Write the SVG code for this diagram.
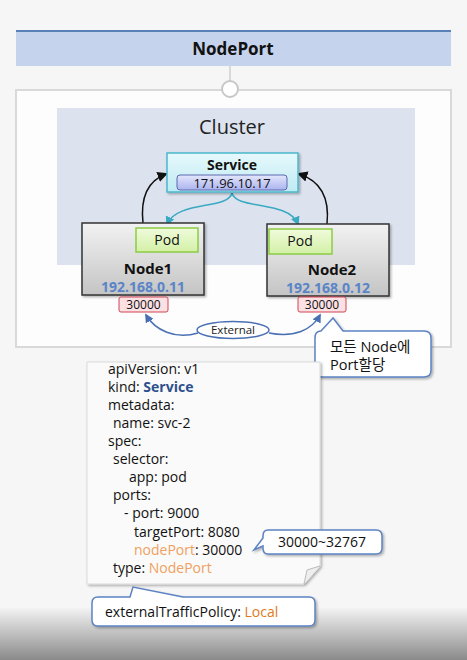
<svg xmlns="http://www.w3.org/2000/svg" width="467" height="660" viewBox="0 0 467 660">
<defs>
<style>
.t{font-family:"Open Sans","Noto Sans","Noto Sans CJK KR",sans-serif}
.code{font-size:14px}
.b{font-weight:bold}
.callout{fill:#fff;stroke:#5b82c2;stroke-width:1.5}
</style>
<linearGradient id="bot" x1="0" y1="0" x2="0" y2="1">
<stop offset="0" stop-color="#f3f3f3"/><stop offset="1" stop-color="#8a8a8a"/>
</linearGradient>
<linearGradient id="node" x1="0" y1="0" x2="0" y2="1">
<stop offset="0" stop-color="#f2f2f2"/><stop offset="1" stop-color="#c4c4c4"/>
</linearGradient>
<linearGradient id="svc" x1="0" y1="0" x2="0" y2="1">
<stop offset="0" stop-color="#e6f9fc"/><stop offset="1" stop-color="#bfeaf3"/>
</linearGradient>
<linearGradient id="ip" x1="0" y1="0" x2="0" y2="1">
<stop offset="0" stop-color="#e4e7fb"/><stop offset="1" stop-color="#aab3ef"/>
</linearGradient>
<linearGradient id="pod" x1="0" y1="0" x2="0" y2="1">
<stop offset="0" stop-color="#f0fbdc"/><stop offset="1" stop-color="#d3f0a6"/>
</linearGradient>
<filter id="sh" x="-10%" y="-10%" width="130%" height="130%">
<feDropShadow dx="1.5" dy="1.5" stdDeviation="1.2" flood-color="#000" flood-opacity="0.3"/>
</filter>
<marker id="ak" viewBox="0 0 10 10" refX="8" refY="5" markerWidth="7" markerHeight="7" orient="auto"><path d="M0,0 L10,5 L0,10 z" fill="#111"/></marker>
<marker id="ac" viewBox="0 0 10 10" refX="8" refY="5" markerWidth="6" markerHeight="6" orient="auto"><path d="M0,0 L10,5 L0,10 z" fill="#3aa9c2"/></marker>
<marker id="ab" viewBox="0 0 10 10" refX="8" refY="5" markerWidth="6" markerHeight="6" orient="auto"><path d="M0,0 L10,5 L0,10 z" fill="#4a70b4"/></marker>
</defs>
<rect x="0" y="0" width="467" height="660" fill="#f6f6f6"/>
<rect x="0" y="608" width="467" height="52" fill="url(#bot)"/>

<g fill="#111">
<g id="title">
<rect x="16" y="30" width="435" height="36" fill="#c5d3ed"/>
<rect x="16" y="30" width="435" height="2" fill="#5a80b8"/>
<text class="t b" x="233" y="55" font-size="17" text-anchor="middle">NodePort</text>
</g>

<g id="container">
<rect x="16" y="90" width="435" height="257" fill="#fdfdfd" stroke="#d9d9d9" stroke-width="2"/>
</g>
<g id="cluster">
<rect x="57" y="108" width="358" height="157" fill="#dce3ef"/>
<text class="t" x="232" y="134" font-size="20" text-anchor="middle" fill="#222">Cluster</text>
</g>

<g id="connectors" fill="none">
<line x1="230" y1="66" x2="230" y2="81" stroke="#cfcfcf" stroke-width="1.5"/>
<circle cx="230" cy="89" r="8" fill="#fff" stroke="#c8c8c8" stroke-width="2"/>
<path d="M143 223 C140 195 150 180 166 174" stroke="#111" stroke-width="1.5" marker-end="url(#ak)"/>
<path d="M327 224 C330 195 318 180 299 174" stroke="#111" stroke-width="1.5" marker-end="url(#ak)"/>
<path d="M232 193 C228 210 178 200 167 224" stroke="#3aa9c2" stroke-width="1.5" marker-end="url(#ac)"/>
<path d="M232 193 C236 210 288 200 298 224" stroke="#3aa9c2" stroke-width="1.5" marker-end="url(#ac)"/>
<path d="M198 333 C175 340 155 330 146 315" stroke="#4a70b4" stroke-width="1.5" marker-end="url(#ab)"/>
<path d="M269 333 C294 338 312 330 320 315" stroke="#4a70b4" stroke-width="1.5" marker-end="url(#ab)"/>
</g>

<g id="service">
<rect x="167" y="153" width="131" height="39" fill="url(#svc)" stroke="#4bb8cc" stroke-width="1.5" filter="url(#sh)"/>
<text class="t b" x="232" y="170" font-size="14" text-anchor="middle">Service</text>
<rect x="177" y="175" width="110" height="15" rx="3" fill="url(#ip)" stroke="#5a68b0" stroke-width="1"/>
<text class="t" x="232" y="188" font-size="13" text-anchor="middle">171.96.10.17</text>
</g>

<g id="node1">
<rect x="82" y="223" width="122" height="72" fill="url(#node)" stroke="#333" stroke-width="1.5" filter="url(#sh)"/>
<rect x="136" y="228" width="62" height="24" fill="url(#pod)" stroke="#8ccc44" stroke-width="1.5"/>
<text class="t" x="167" y="245" font-size="14" text-anchor="middle">Pod</text>
<text class="t b" x="148" y="274" font-size="15" text-anchor="middle">Node1</text>
<text class="t b" x="143" y="292" font-size="14" text-anchor="middle" fill="#5a84c8">192.168.0.11</text>
<rect x="119" y="297" width="49" height="15" rx="2" fill="#fbe1e4" stroke="#d04555" stroke-width="1"/>
<text class="t" x="143.5" y="309" font-size="12" text-anchor="middle">30000</text>
</g>

<g id="node2">
<rect x="267" y="224" width="122" height="72" fill="url(#node)" stroke="#333" stroke-width="1.5" filter="url(#sh)"/>
<rect x="269" y="229" width="63" height="25" fill="url(#pod)" stroke="#8ccc44" stroke-width="1.5"/>
<text class="t" x="300" y="246" font-size="14" text-anchor="middle">Pod</text>
<text class="t b" x="332" y="275" font-size="15" text-anchor="middle">Node2</text>
<text class="t b" x="328" y="293" font-size="14" text-anchor="middle" fill="#5a84c8">192.168.0.12</text>
<rect x="298" y="297" width="48" height="15" rx="2" fill="#fbe1e4" stroke="#d04555" stroke-width="1"/>
<text class="t" x="322" y="309" font-size="12" text-anchor="middle">30000</text>
</g>

<g id="external">
<ellipse cx="233" cy="330" rx="36" ry="8.5" fill="#fff" stroke="#4a70b4" stroke-width="1.5"/>
<text class="t" x="233" y="334" font-size="11.5" text-anchor="middle" fill="#222">External</text>
</g>

<g id="callout-port">
<path d="M321 331 L333 318 L343 331 L424 331 Q431 331 431 338 L431 370 Q431 377 424 377 L322 377 Q315 377 315 370 L315 338 Q315 331 321 331 Z" class="callout" filter="url(#sh)"/>
<text class="t" x="330" y="352" font-size="14.5">모든 Node에</text>
<text class="t" x="330" y="370" font-size="14.5">Port할당</text>
</g>

<g id="yaml">
<path d="M87 362 L320 362 L320 566 L304 584 L87 584 Z" fill="#fafafa" stroke="#dadada" stroke-width="1" filter="url(#sh)"/>
<path d="M304 584 L307 570 L320 566" fill="#eee" stroke="#bbb" stroke-width="1"/>
<text class="t code" x="108" y="374">apiVersion: v1</text>
<text class="t code" x="108" y="392">kind: <tspan class="b" fill="#2e4f8e">Service</tspan></text>
<text class="t code" x="108" y="410">metadata:</text>
<text class="t code" x="113" y="428">name: svc-2</text>
<text class="t code" x="108" y="446">spec:</text>
<text class="t code" x="113" y="464">selector:</text>
<text class="t code" x="129" y="482">app: pod</text>
<text class="t code" x="113" y="500">ports:</text>
<text class="t code" x="124" y="518">- port: 9000</text>
<text class="t code" x="134" y="537">targetPort: 8080</text>
<text class="t code" x="134" y="555"><tspan fill="#f0a060">nodePort</tspan>: 30000</text>
<text class="t code" x="113" y="573">type: <tspan fill="#f0a060">NodePort</tspan></text>
</g>

<g id="callout-range">
<path d="M268 530 L376 530 Q382 530 382 536 L382 548 Q382 554 376 554 L268 554 Q263 554 263 548 L263 546 L254 550 L263 538 L263 536 Q263 530 268 530 Z" class="callout" filter="url(#sh)"/>
<text class="t" x="322" y="547" font-size="14" text-anchor="middle">30000~32767</text>
</g>

<g id="callout-policy">
<path d="M98 597 L130 597 L133 587 L183 597 L309 597 Q315 597 315 603 L315 620 Q315 626 309 626 L98 626 Q92 626 92 620 L92 603 Q92 597 98 597 Z" class="callout" filter="url(#sh)"/>
<text class="t" x="105" y="617" font-size="14">externalTrafficPolicy: <tspan fill="#e07a20">Local</tspan></text>
</g>
</g>
</svg>
